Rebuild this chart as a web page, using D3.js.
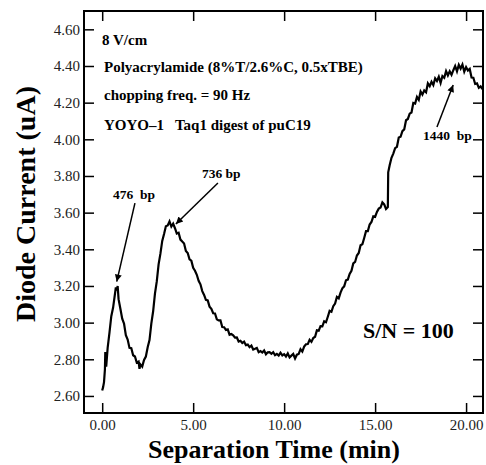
<!DOCTYPE html>
<html>
<head>
<meta charset="utf-8">
<script src="https://cdn.jsdelivr.net/npm/d3@7"></script>
<style>
  body { margin: 0; background: #fff; }
  svg text { font-family: "Liberation Serif", "Times New Roman", serif; white-space: pre; }
</style>
</head>
<body>
<div id="chart"></div>
<script>
// Data (min, uA)
const sepTime = [
  0.00, 0.05, 0.10, 0.15, 0.17, 0.20, 0.22, 0.30, 0.40, 0.50, 0.60, 0.70, 0.75, 0.80, 0.85, 0.90,
  1.00, 1.10, 1.20, 1.30, 1.40, 1.50, 1.60, 1.70, 1.80, 1.90, 2.00, 2.05, 2.10, 2.20, 2.30, 2.40,
  2.50, 2.60, 2.70, 2.80, 2.90, 3.00, 3.10, 3.20, 3.30, 3.40, 3.50, 3.60, 3.70, 3.80, 3.90, 4.00,
  4.10, 4.20, 4.30, 4.40, 4.50, 4.60, 4.70, 4.80, 4.90, 5.00, 5.10, 5.20, 5.30, 5.40, 5.50, 5.60,
  5.70, 5.80, 5.90, 6.00, 6.10, 6.20, 6.30, 6.40, 6.50, 6.60, 6.70, 6.80, 6.90, 7.00, 7.10, 7.20,
  7.30, 7.40, 7.50, 7.60, 7.70, 7.80, 7.90, 8.00, 8.10, 8.20, 8.30, 8.40, 8.50, 8.60, 8.70, 8.80,
  8.90, 9.00, 9.10, 9.20, 9.30, 9.40, 9.50, 9.60, 9.70, 9.80, 9.90, 10.00, 10.10, 10.20, 10.30, 10.40,
  10.50, 10.60, 10.70, 10.80, 10.90, 11.00, 11.10, 11.20, 11.30, 11.40, 11.50, 11.60, 11.70, 11.80, 11.90, 12.00,
  12.10, 12.20, 12.30, 12.40, 12.50, 12.60, 12.70, 12.80, 12.90, 13.00, 13.10, 13.20, 13.30, 13.40, 13.50, 13.60,
  13.70, 13.80, 13.90, 14.00, 14.10, 14.20, 14.30, 14.40, 14.50, 14.60, 14.70, 14.80, 14.90, 15.00, 15.10, 15.20,
  15.30, 15.40, 15.50, 15.60, 15.70, 15.72, 15.80, 15.90, 16.00, 16.10, 16.20, 16.30, 16.40, 16.50, 16.60, 16.70,
  16.80, 16.90, 17.00, 17.10, 17.20, 17.30, 17.40, 17.50, 17.60, 17.70, 17.80, 17.90, 18.00, 18.10, 18.20, 18.30,
  18.40, 18.50, 18.60, 18.70, 18.80, 18.90, 19.00, 19.10, 19.20, 19.30, 19.40, 19.50, 19.60, 19.70, 19.80, 19.90,
  20.00, 20.10, 20.20, 20.30, 20.40, 20.50, 20.60, 20.70, 20.80, 20.90
];
const diodeCurrent = [
  2.630, 2.648, 2.675, 2.745, 2.840, 2.800, 2.760, 2.862, 2.946, 3.035, 3.082, 3.155, 3.192, 3.176, 3.200, 3.128,
  3.076, 3.022, 2.995, 2.932, 2.908, 2.862, 2.860, 2.822, 2.815, 2.782, 2.788, 2.748, 2.772, 2.760, 2.796, 2.815,
  2.866, 2.905, 2.995, 3.062, 3.158, 3.225, 3.318, 3.376, 3.446, 3.484, 3.526, 3.530, 3.552, 3.524, 3.540, 3.515,
  3.486, 3.490, 3.453, 3.442, 3.432, 3.391, 3.380, 3.345, 3.338, 3.299, 3.283, 3.261, 3.228, 3.209, 3.172, 3.151,
  3.124, 3.121, 3.087, 3.075, 3.051, 3.050, 3.018, 3.012, 3.012, 2.976, 2.975, 2.960, 2.963, 2.934, 2.938, 2.931,
  2.918, 2.919, 2.897, 2.901, 2.889, 2.896, 2.877, 2.880, 2.866, 2.875, 2.853, 2.857, 2.862, 2.839, 2.845, 2.837,
  2.848, 2.827, 2.838, 2.839, 2.830, 2.839, 2.822, 2.829, 2.820, 2.836, 2.821, 2.828, 2.815, 2.832, 2.810, 2.820,
  2.829, 2.804, 2.825, 2.829, 2.855, 2.842, 2.869, 2.882, 2.883, 2.906, 2.895, 2.916, 2.923, 2.958, 2.956, 2.981,
  2.980, 3.007, 3.002, 3.032, 3.064, 3.059, 3.090, 3.104, 3.140, 3.132, 3.164, 3.187, 3.198, 3.231, 3.235, 3.266,
  3.283, 3.323, 3.331, 3.366, 3.380, 3.422, 3.427, 3.462, 3.499, 3.499, 3.535, 3.549, 3.580, 3.577, 3.604, 3.622,
  3.628, 3.656, 3.645, 3.620, 3.630, 3.820, 3.858, 3.899, 3.922, 3.952, 3.959, 4.010, 4.014, 4.045, 4.054, 4.104,
  4.111, 4.140, 4.146, 4.198, 4.195, 4.231, 4.215, 4.261, 4.244, 4.267, 4.257, 4.305, 4.290, 4.314, 4.296, 4.333,
  4.318, 4.341, 4.308, 4.345, 4.336, 4.372, 4.348, 4.371, 4.352, 4.377, 4.400, 4.371, 4.406, 4.386, 4.408, 4.369,
  4.394, 4.375, 4.384, 4.337, 4.336, 4.302, 4.305, 4.281, 4.289, 4.274
];

const xTicks = [0, 5, 10, 15, 20];
const yTicks = [2.6, 2.8, 3.0, 3.2, 3.4, 3.6, 3.8, 4.0, 4.2, 4.4, 4.6];

const infoLines = [
  "8 V/cm",
  "Polyacrylamide (8%T/2.6%C, 0.5xTBE)",
  "chopping freq. = 90 Hz",
  "YOYO\u20131   Taq1 digest of puC19"
];

// peak labels: text, label anchor (min, uA), arrow tail and tip (min, uA)
const peakLabels = ["476  bp", "736 bp", "1440  bp"];
const peakLabelPos = [[0.59, 3.675], [5.48, 3.789], [17.63, 3.997]];
const arrowTail = [[1.80, 3.652], [6.36, 3.762], [18.40, 4.067]];
const arrowTip = [[0.80, 3.224], [4.05, 3.538], [19.29, 4.296]];

/* Canvas */
const W = 486, H = 465;
const frame = { left: 84, right: 483, top: 11, bottom: 413 };

const svg = d3.select("#chart")
  .append("svg")
  .attr("width", W)
  .attr("height", H);

const x = d3.scaleLinear().domain([-1.0, 20.93]).range([frame.left, frame.right]);
const y = d3.scaleLinear().domain([2.507, 4.70]).range([frame.bottom, frame.top]);

const tickLen = 10;

// axes: labelled bottom/left, inward ticks on all four sides
function styleAxis(g) {
  g.select(".domain").remove();
  g.selectAll(".tick line").attr("stroke", "#000").attr("stroke-width", 1.5);
  g.selectAll(".tick text")
    .attr("font-family", "Liberation Serif")
    .attr("font-size", "15px")
    .attr("fill", "#222");
}

svg.append("g")
  .attr("transform", `translate(0,${frame.bottom})`)
  .call(d3.axisBottom(x).tickValues(xTicks).tickFormat(d3.format(".2f"))
    .tickSizeInner(-tickLen).tickSizeOuter(0).tickPadding(6))
  .call(styleAxis);

svg.append("g")
  .attr("transform", `translate(0,${frame.top})`)
  .call(d3.axisTop(x).tickValues(xTicks).tickFormat("").tickSizeInner(-tickLen).tickSizeOuter(0))
  .call(styleAxis);

svg.append("g")
  .attr("transform", `translate(${frame.left},0)`)
  .call(d3.axisLeft(y).tickValues(yTicks).tickFormat(d3.format(".2f"))
    .tickSizeInner(-tickLen).tickSizeOuter(0).tickPadding(4))
  .call(styleAxis);

svg.append("g")
  .attr("transform", `translate(${frame.right},0)`)
  .call(d3.axisRight(y).tickValues(yTicks).tickFormat("").tickSizeInner(-tickLen).tickSizeOuter(0))
  .call(styleAxis);

// frame
svg.append("rect")
  .attr("x", frame.left)
  .attr("y", frame.top)
  .attr("width", frame.right - frame.left)
  .attr("height", frame.bottom - frame.top)
  .attr("fill", "none")
  .attr("stroke", "#000")
  .attr("stroke-width", 2);

// trace
const trace = sepTime.map((t, i) => [t, diodeCurrent[i]]);
svg.append("path")
  .datum(trace)
  .attr("fill", "none")
  .attr("stroke", "#000")
  .attr("stroke-width", 2.2)
  .attr("stroke-linejoin", "miter")
  .attr("d", d3.line().x(d => x(d[0])).y(d => y(d[1])));

// info text
svg.selectAll(".info")
  .data(infoLines)
  .join("text")
  .attr("class", "info")
  .attr("x", (d, i) => i === 0 ? 102 : 104)
  .attr("y", (d, i) => [45, 72, 100, 130][i])
  .attr("font-size", "15px")
  .attr("font-weight", "bold")
  .text(d => d);

// peak labels and arrows
svg.append("defs").append("marker")
  .attr("id", "head")
  .attr("viewBox", "0 0 10 10")
  .attr("refX", 10)
  .attr("refY", 5)
  .attr("markerWidth", 10)
  .attr("markerHeight", 7)
  .attr("markerUnits", "userSpaceOnUse")
  .attr("orient", "auto")
  .append("path")
  .attr("d", "M0,0 L10,5 L0,10 Z")
  .attr("fill", "#000");

peakLabels.forEach((lbl, i) => {
  svg.append("text")
    .attr("x", x(peakLabelPos[i][0]))
    .attr("y", y(peakLabelPos[i][1]))
    .attr("font-size", "13.5px")
    .attr("font-weight", "bold")
    .text(lbl);
  svg.append("line")
    .attr("x1", x(arrowTail[i][0]))
    .attr("y1", y(arrowTail[i][1]))
    .attr("x2", x(arrowTip[i][0]))
    .attr("y2", y(arrowTip[i][1]))
    .attr("stroke", "#000")
    .attr("stroke-width", 1.5)
    .attr("marker-end", "url(#head)");
});

svg.append("text")
  .attr("x", 363)
  .attr("y", 338)
  .attr("font-size", "22px")
  .attr("font-weight", "bold")
  .text("S/N = 100");

// axis titles
svg.append("text")
  .attr("x", 274)
  .attr("y", 458)
  .attr("text-anchor", "middle")
  .attr("font-size", "26px")
  .attr("font-weight", "bold")
  .text("Separation Time (min)");

svg.append("text")
  .attr("transform", "translate(35,204) rotate(-90)")
  .attr("text-anchor", "middle")
  .attr("font-size", "28px")
  .attr("font-weight", "bold")
  .text("Diode Current (uA)");
</script>
</body>
</html>
